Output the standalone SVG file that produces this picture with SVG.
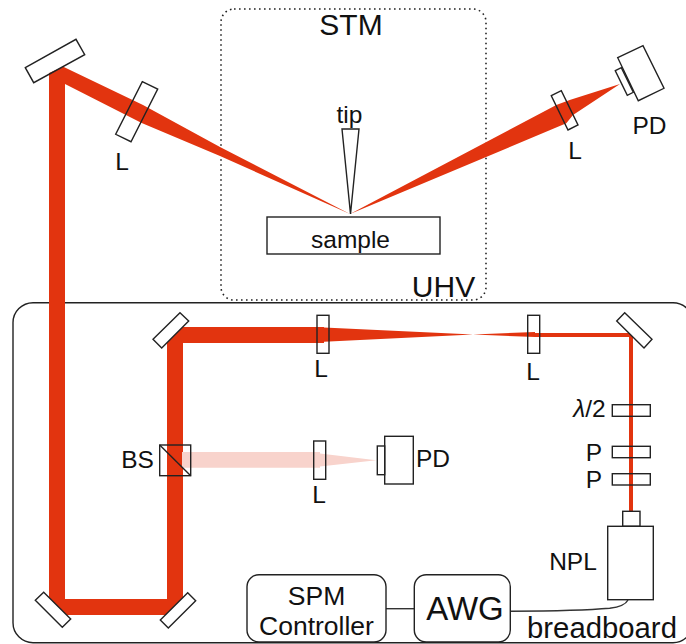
<svg xmlns="http://www.w3.org/2000/svg" width="686" height="644" viewBox="0 0 686 644">
<style>
.o{fill:none;stroke:#222;stroke-width:1.4}
.w{fill:#fff;stroke:#222;stroke-width:1.4}
.t{fill:none;stroke:#333;stroke-width:1.4}
.b{fill:#e2340f}
.p{fill:#f8d3cc}
text{font-family:"Liberation Sans",Arial,sans-serif;fill:#111}
.m{font-size:24.500px}
</style>
<rect width="686" height="644" fill="#fff"/>
<g id="breadboard"><rect class="o" x="13" y="302.700" width="680" height="340" rx="20"/><text x="602" y="638" font-size="29.300" text-anchor="middle">breadboard</text></g>
<g id="stm-chamber"><rect x="221" y="9" width="265" height="291" rx="13" fill="none" stroke="#222" stroke-width="1.600" stroke-dasharray="1.600 3.400"/><text x="351" y="35" font-size="30" text-anchor="middle">STM</text><text x="443.500" y="297" font-size="30" text-anchor="middle">UHV</text></g>
<g id="connectors">
<path class="b" d="M49 73L63.300 66.700L143 105L220 147L350 214L220 156L141.700 123L65 84V599H167V343L183 327H324V327.500L473 334.500L535 332V333H633V512H629V337H535L473 334.500L324 341.700V343H183V599L167 615H65L49 599Z"/>
<path class="b" d="M350 214L556.300 105L569.700 100L620 84L573 115L566.300 123.300Z"/>
<path class="p" d="M182 452H320V453.500L376.300 460.300L320 466.500V467.700H182Z"/>
<path d="M386 608.700H414.300" class="t"/>
<path d="M511 611.300C560 611 590 610 609.700 608.300C620 607 626 604 628 600" class="t"/>
</g>
<g id="mirror-top"><polygon class="o" points="25.300,67.700 76,39.300 84.700,54.700 33.700,82.700"/></g>
<g id="lens-left"><polygon class="o" points="142.300,81.700 157.700,89 131,141.700 115.700,134.300"/><text class="m" x="122" y="170" text-anchor="middle">L</text></g>
<g id="tip"><polygon class="o" points="342,129 359,129 350.500,214"/><text class="m" x="349.500" y="123" text-anchor="middle">tip</text></g>
<g id="sample"><rect class="o" x="267" y="217" width="173" height="37"/><text class="m" x="350.500" y="248" text-anchor="middle">sample</text></g>
<g id="lens-right"><polygon class="o" points="551.300,95.700 561.300,90.700 578,125 568,130"/><text class="m" x="575" y="159" text-anchor="middle">L</text></g>
<g id="pd-top"><polygon class="o" points="617.700,57.700 643,45.700 664,88.300 638.300,100.700"/><polygon class="o" points="615.300,70.700 621.300,67.700 633.300,92.300 627.300,95.300"/><text class="m" x="649.500" y="134" text-anchor="middle">PD</text></g>
<g id="mirror-bl"><polygon class="w" points="43.700,592.300 70.700,619 62.300,627.300 35.300,600.300"/></g>
<g id="mirror-br"><polygon class="w" points="187.700,592.700 195.700,600.700 168.300,628 160.300,620"/></g>
<g id="mirror-ul"><polygon class="w" points="180,312.700 188.700,321 161.700,348 153,339.300"/></g>
<g id="mirror-ur"><polygon class="w" points="624.700,312.700 652,339.300 644,348 616.700,321"/></g>
<g id="bs"><rect class="o" x="159.700" y="445" width="31" height="30.700"/><path class="o" d="M159.700 445L190.700 475.700"/><text class="m" x="137.500" y="468" text-anchor="middle">BS</text></g>
<g id="lens-1"><rect class="o" x="317" y="315.300" width="12" height="38"/><text class="m" x="321" y="377" text-anchor="middle">L</text></g>
<g id="lens-2"><rect class="o" x="527.700" y="315.300" width="12" height="38"/><text class="m" x="533" y="380" text-anchor="middle">L</text></g>
<g id="lens-3"><rect class="o" x="313.700" y="441" width="12" height="38.300"/><text class="m" x="319" y="503" text-anchor="middle">L</text></g>
<g id="pd-bottom"><rect class="o" x="384.700" y="436.300" width="28.600" height="47.700"/><rect class="o" x="377.300" y="446" width="7.400" height="28.700"/><text class="m" x="433" y="467" text-anchor="middle">PD</text></g>
<g id="lambda"><rect class="o" x="612.300" y="404.700" width="38" height="11.600"/><text class="m" x="589.500" y="417" text-anchor="middle" font-style="italic">λ<tspan font-style="normal">/2</tspan></text></g>
<g id="p1"><rect class="o" x="612.300" y="446.300" width="38" height="11.400"/><text class="m" x="594" y="461" text-anchor="middle">P</text></g>
<g id="p2"><rect class="o" x="612.300" y="473.700" width="38" height="11.300"/><text class="m" x="594" y="488" text-anchor="middle">P</text></g>
<g id="npl"><rect class="o" x="622.700" y="511.300" width="17.300" height="15"/><rect class="o" x="607.700" y="526.300" width="45.600" height="73.400"/><text class="m" x="573" y="570" text-anchor="middle">NPL</text></g>
<g id="spm"><rect class="o" x="247" y="574.700" width="139" height="67.300" rx="12"/><text x="316.500" y="605" font-size="26.500" text-anchor="middle">SPM</text><text x="316.500" y="635" font-size="26.500" text-anchor="middle">Controller</text></g>
<g id="awg"><rect class="o" x="414.300" y="574.700" width="96" height="67.300" rx="12"/><text x="465" y="620" font-size="33" text-anchor="middle">AWG</text></g>
</svg>
